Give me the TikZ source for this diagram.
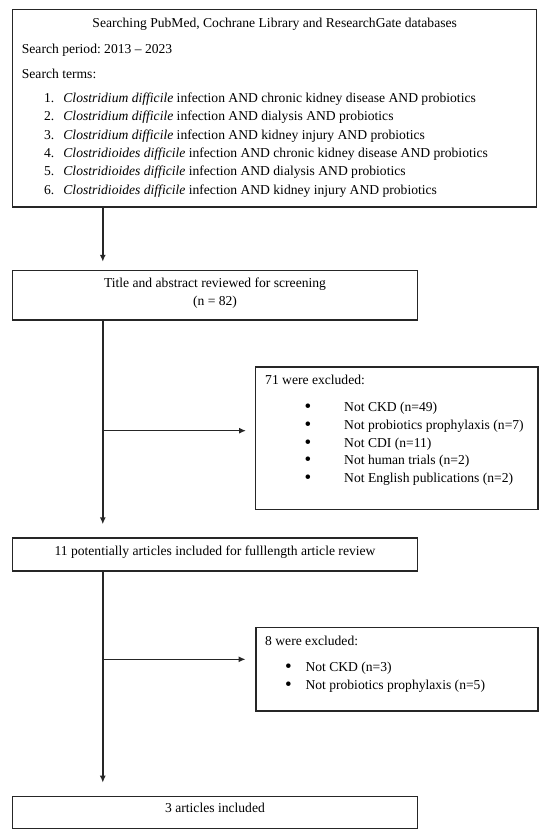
\documentclass[tikz,border=0pt]{standalone}
\usepackage{fontspec}
\setmainfont{Liberation Serif}
\usetikzlibrary{arrows.meta,positioning,calc}
\frenchspacing

\newcommand{\bul}{{\fontsize{19}{16}\selectfont\raisebox{-1pt}{\textbullet}}}

\tikzset{
  box/.style={draw=black!85, line width=1.2pt, inner sep=0pt, outer sep=0pt},
  txt/.style={inner sep=0pt, anchor=base west, font=\fontsize{13.6}{16}\selectfont},
  ctxt/.style={txt, anchor=base},
  flow/.style={draw=black!85, line width=1.4pt, -{Latex[length=7pt,width=6pt]}},
}

\begin{document}
\begin{tikzpicture}[x=1pt,y=-1pt]
  \useasboundingbox (0,0) rectangle (550,840);

  % boxes
  \node[box, minimum width=524pt, minimum height=197.7pt] (search) at (274.7,108.2) {};
  \node[box, minimum width=404.6pt, minimum height=49.3pt] (screen) at (215,295.4) {};
  \node[box, minimum width=282.3pt, minimum height=142.3pt] (excl1) at (396.9,438.2) {};
  \node[box, minimum width=404.6pt, minimum height=33pt] (full) at (215,554.5) {};
  \node[box, minimum width=282pt, minimum height=83.3pt] (excl2) at (397,669.4) {};
  \node[box, minimum width=404.6pt, minimum height=32pt] (incl) at (215,812.7) {};

  % search box text
  \node[ctxt] (title) at (274.7,27.3) {Searching PubMed, Cochrane Library and ResearchGate databases};
  \node[txt] (period) at (21.7,53.3) {Search period: 2013 -- 2023};
  \node[txt] (terms) at (21.7,78.3) {Search terms:};
  \node[txt] (term1) at (43.9,102.7) {\makebox[19.3pt][l]{1.}\textit{Clostridium difficile} infection AND chronic kidney disease AND probiotics};
  \node[txt] (term2) at (43.9,121) {\makebox[19.3pt][l]{2.}\textit{Clostridium difficile} infection AND dialysis AND probiotics};
  \node[txt] (term3) at (43.9,139.3) {\makebox[19.3pt][l]{3.}\textit{Clostridium difficile} infection AND kidney injury AND probiotics};
  \node[txt] (term4) at (43.9,157.6) {\makebox[19.3pt][l]{4.}\textit{Clostridioides difficile} infection AND chronic kidney disease AND probiotics};
  \node[txt] (term5) at (43.9,175.9) {\makebox[19.3pt][l]{5.}\textit{Clostridioides difficile} infection AND dialysis AND probiotics};
  \node[txt] (term6) at (43.9,194.2) {\makebox[19.3pt][l]{6.}\textit{Clostridioides difficile} infection AND kidney injury AND probiotics};

  % screening
  \node[ctxt] (screen1) at (215,287.7) {Title and abstract reviewed for screening};
  \node[ctxt] (screen2) at (215,305) {(n = 82)};

  % first exclusion
  \node[txt] (ex1head) at (265,384.5) {71 were excluded:};
  \node[txt] (ex1a) at (304.5,411.7) {\makebox[39.5pt][l]{\bul}Not CKD (n=49)};
  \node[txt] (ex1b) at (304.5,429.4) {\makebox[39.5pt][l]{\bul}Not probiotics prophylaxis (n=7)};
  \node[txt] (ex1c) at (304.5,447.1) {\makebox[39.5pt][l]{\bul}Not CDI (n=11)};
  \node[txt] (ex1d) at (304.5,464.8) {\makebox[39.5pt][l]{\bul}Not human trials (n=2)};
  \node[txt] (ex1e) at (304.5,482.5) {\makebox[39.5pt][l]{\bul}Not English publications (n=2)};

  % full-length review
  \node[ctxt] (fulltxt) at (215,555) {11 potentially articles included for fulllength article review};

  % second exclusion
  \node[txt] (ex2head) at (265,645) {8 were excluded:};
  \node[txt] (ex2a) at (285,671) {\makebox[20.3pt][l]{\bul}Not CKD (n=3)};
  \node[txt] (ex2b) at (285,689) {\makebox[20.3pt][l]{\bul}Not probiotics prophylaxis (n=5)};

  % included
  \node[ctxt] (incltxt) at (215,812.7) {3 articles included};

  % connectors
  \coordinate (trunk) at (102.8,0);
  \coordinate (branch1) at (102.8,430.7);
  \coordinate (branch2) at (102.8,659.3);
  \draw[flow, shorten >=9pt] (search.south -| trunk) -- (screen.north -| trunk);
  \draw[flow, shorten >=13.7pt] (screen.south -| trunk) -- (full.north -| trunk);
  \draw[flow, shorten >=9.7pt] (branch1) -- (excl1.west |- branch1);
  \draw[flow, shorten >=14pt] (full.south -| trunk) -- (incl.north -| trunk);
  \draw[flow, shorten >=10.4pt] (branch2) -- (excl2.west |- branch2);
\end{tikzpicture}
\end{document}
